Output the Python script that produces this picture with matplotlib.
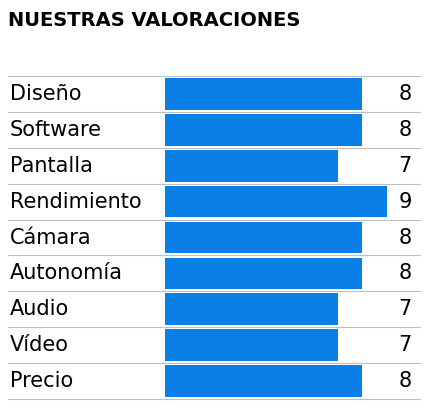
import matplotlib.pyplot as plt

categorias = ['Diseño', 'Software', 'Pantalla', 'Rendimiento', 'Cámara',
              'Autonomía', 'Audio', 'Vídeo', 'Precio']
notas = [8, 8, 7, 9, 8, 8, 7, 7, 8]

W, H = 427, 405
fig = plt.figure(figsize=(W / 100, H / 100), dpi=100)
x0, x9 = 165, 387
top, bot = 76, 399
ax = fig.add_axes([x0 / W, 1 - bot / H, (x9 - x0) / W, (bot - top) / H])
n = len(categorias)
ax.barh(range(n), notas, height=0.88, color='#0a7fe6', align='center')
ax.set_xlim(0, 9)
ax.set_ylim(n - 0.5, -0.5)
ax.axis('off')

# coordinates helpers for labels outside axes
lx = (10 - x0) / (x9 - x0) * 9
rx = (412 - x0) / (x9 - x0) * 9
gl0 = (8 - x0) / (x9 - x0) * 9
gl1 = (420 - x0) / (x9 - x0) * 9
for i, (c, v) in enumerate(zip(categorias, notas)):
    ax.text(lx, i, c, ha='left', va='center', fontsize=15, clip_on=False)
    ax.text(rx, i, str(v), ha='right', va='center', fontsize=15, clip_on=False)
for k in range(n + 1):
    ax.plot([gl0, gl1], [k - 0.5, k - 0.5], color='#bfbfbf', lw=0.8, clip_on=False)

fig.text(8 / W, 1 - 20 / H, 'NUESTRAS VALORACIONES', fontsize=14, fontweight='bold',
         va='center', ha='left')
fig.savefig('out.png', dpi=100)
